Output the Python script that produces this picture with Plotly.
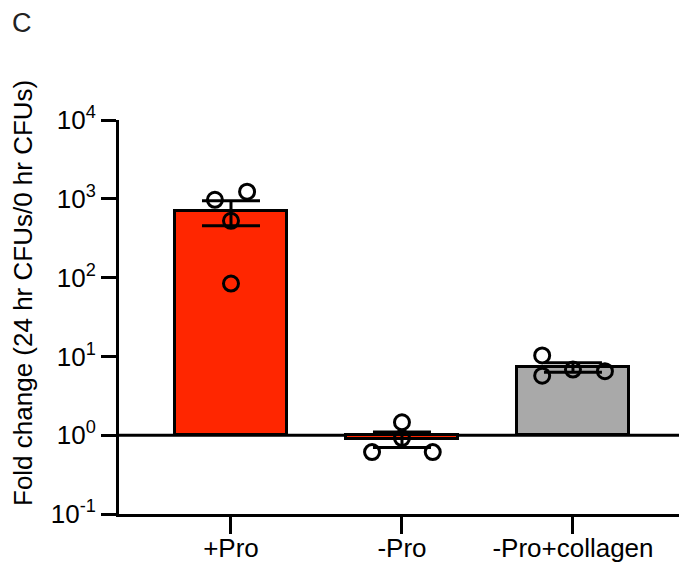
import plotly.graph_objects as go

categories = ["+Pro", "-Pro", "-Pro+collagen"]
means = [700, 0.9, 7.3]
sems = [244, 0.2, 1.0]
bar_colors = ["#FF2600", "#FF2600", "#A9A9A9"]
points = [
    [970, 1230, 525, 84],
    [1.46, 0.61, 0.92, 0.61],
    [10.3, 5.7, 6.8, 6.5],
]
point_offsets = [
    [-0.094, 0.094, 0.0, 0.0],
    [0.0, -0.175, 0.0, 0.18],
    [-0.18, -0.18, 0.0, 0.187],
]
baseline = 1
ytick_vals = [0.1, 1, 10, 100, 1000, 10000]
ytick_text = ["10<sup>-1</sup>", "10<sup>0</sup>", "10<sup>1</sup>",
              "10<sup>2</sup>", "10<sup>3</sup>", "10<sup>4</sup>"]

FONT = "Liberation Sans, Arial, sans-serif"
FS = 26
xpos = list(range(len(categories)))

# page has an 8px body margin; chart is sized so it fills the 687x567 window
W, H = 679, 559
L, T, B, R = 111, 112, 53, 0
PW, PH = W - L - R, H - T - B

fig = go.Figure()
fig.add_trace(go.Bar(
    x=xpos,
    y=[m - baseline for m in means],
    base=[baseline] * len(means),
    width=0.65,
    marker=dict(color=bar_colors, line=dict(color="black", width=3)),
    error_y=dict(type="data", array=sems, color="black", thickness=3, width=29),
    showlegend=False,
))

px, py = [], []
for i, vals in enumerate(points):
    for v, off in zip(vals, point_offsets[i]):
        px.append(xpos[i] + off)
        py.append(v)
fig.add_trace(go.Scatter(
    x=px, y=py, mode="markers",
    marker=dict(symbol="circle-open", size=15, color="black",
                line=dict(color="black", width=3)),
    showlegend=False,
))

fig.add_shape(type="line", xref="paper", yref="y", x0=0, x1=1,
              y0=baseline, y1=baseline, line=dict(color="black", width=3),
              layer="below")

fig.update_layout(
    width=W, height=H,
    margin=dict(l=L, r=R, t=T, b=B, pad=0),
    plot_bgcolor="white", paper_bgcolor="white",
    font=dict(family=FONT, size=FS, color="black"),
    bargap=0,
    xaxis=dict(
        range=[-0.655, 2.667], tickvals=xpos, ticktext=categories,
        showline=True, linecolor="black", linewidth=3,
        ticks="outside", ticklen=17, tickwidth=3, tickcolor="black",
        showgrid=False, zeroline=False, tickfont=dict(size=FS),
        automargin=False, ticklabelstandoff=-8,
    ),
    yaxis=dict(
        type="log", range=[-1, 4], tickvals=ytick_vals, ticktext=ytick_text,
        showline=True, linecolor="black", linewidth=3,
        ticks="outside", ticklen=15, tickwidth=3, tickcolor="black",
        showgrid=False, zeroline=False, tickfont=dict(size=FS),
        automargin=False,
    ),
    annotations=[
        dict(text="Fold change (24 hr CFUs/0 hr CFUs)", textangle=-90,
             xref="paper", yref="paper", x=(23 - 119) / PW, y=(514 - 293) / PH,
             xanchor="center", yanchor="middle", showarrow=False,
             font=dict(size=FS, family=FONT)),
        dict(text="C", xref="paper", yref="paper",
             x=(22 - 119) / PW, y=(514 - 23) / PH,
             xanchor="center", yanchor="middle", showarrow=False,
             font=dict(size=27, family=FONT, color="#222")),
    ],
)

fig.write_html("out.html")
